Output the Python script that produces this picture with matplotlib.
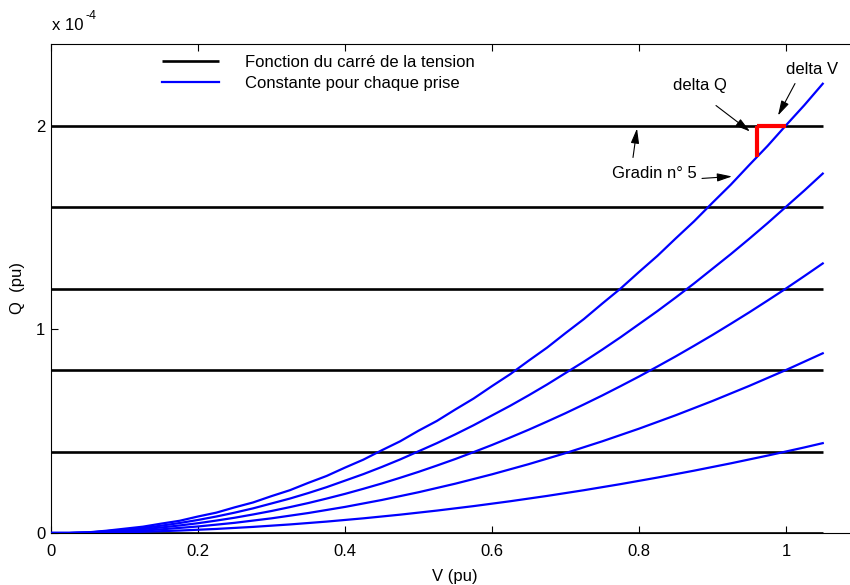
import matplotlib
matplotlib.use("Agg")
import matplotlib.pyplot as plt

plt.rcParams['font.family'] = ['Liberation Sans', 'DejaVu Sans']

# Data (Q in units of 1e-4 pu)
V = [0.000, 0.025, 0.050, 0.075, 0.100, 0.125, 0.150, 0.175, 0.200, 0.225, 0.250,
     0.275, 0.300, 0.325, 0.350, 0.375, 0.400, 0.425, 0.450, 0.475, 0.500, 0.525,
     0.550, 0.575, 0.600, 0.625, 0.650, 0.675, 0.700, 0.725, 0.750, 0.775, 0.800,
     0.825, 0.850, 0.875, 0.900, 0.925, 0.950, 0.975, 1.000, 1.025, 1.050]
Q_prise5 = [0, 0.000, 0.003, 0.011, 0.021, 0.031, 0.046, 0.060, 0.081, 0.100, 0.126,
            0.150, 0.181, 0.210, 0.246, 0.280, 0.321, 0.360, 0.406, 0.450, 0.502, 0.550,
            0.606, 0.660, 0.721, 0.780, 0.846, 0.910, 0.981, 1.050, 1.126, 1.200, 1.281,
            1.360, 1.446, 1.530, 1.621, 1.710, 1.806, 1.900, 2.001, 2.100, 2.205]
Q_prise4 = [0, 0.000, 0.002, 0.009, 0.016, 0.025, 0.036, 0.049, 0.064, 0.081, 0.100,
            0.121, 0.145, 0.169, 0.196, 0.225, 0.257, 0.289, 0.324, 0.361, 0.401, 0.441,
            0.484, 0.529, 0.577, 0.625, 0.676, 0.729, 0.785, 0.841, 0.900, 0.961, 1.025,
            1.089, 1.156, 1.225, 1.297, 1.369, 1.444, 1.521, 1.601, 1.681, 1.764]
Q_prise3 = [0, 0.000, 0.002, 0.007, 0.012, 0.019, 0.027, 0.037, 0.048, 0.061, 0.075,
            0.091, 0.108, 0.127, 0.147, 0.169, 0.192, 0.217, 0.243, 0.271, 0.300, 0.331,
            0.363, 0.397, 0.432, 0.469, 0.507, 0.547, 0.588, 0.631, 0.675, 0.721, 0.768,
            0.817, 0.867, 0.919, 0.972, 1.027, 1.083, 1.141, 1.200, 1.261, 1.323]
Q_prise2 = [0, 0.000, 0.001, 0.004, 0.008, 0.012, 0.018, 0.025, 0.032, 0.041, 0.050,
            0.061, 0.072, 0.085, 0.098, 0.113, 0.128, 0.145, 0.162, 0.181, 0.200, 0.221,
            0.242, 0.265, 0.288, 0.313, 0.338, 0.365, 0.392, 0.421, 0.450, 0.481, 0.512,
            0.545, 0.578, 0.613, 0.648, 0.685, 0.722, 0.761, 0.800, 0.841, 0.882]
Q_prise1 = [0, 0.000, 0.001, 0.002, 0.004, 0.006, 0.009, 0.012, 0.016, 0.020, 0.025,
            0.030, 0.036, 0.042, 0.049, 0.056, 0.064, 0.072, 0.081, 0.090, 0.100, 0.110,
            0.121, 0.132, 0.144, 0.156, 0.169, 0.182, 0.196, 0.210, 0.225, 0.240, 0.256,
            0.272, 0.289, 0.306, 0.324, 0.342, 0.361, 0.380, 0.400, 0.420, 0.441]
curves = [Q_prise1, Q_prise2, Q_prise3, Q_prise4, Q_prise5]
gradins = [0.0, 0.4, 0.8, 1.2, 1.6, 2.0]
V_range = [0.0, 1.05]
deltaV_x = [0.96, 1.0]
deltaQ_y = [1.843, 2.0]

FS = 12
fig = plt.figure(figsize=(8.5, 5.85), dpi=100)
W, H = 850, 585
x0, x1 = 51, 51 + 1.1 * 735
y0, y1 = 533, 44
ax = fig.add_axes([x0 / W, (H - y0) / H, (x1 - x0) / W, (y0 - y1) / H])

for i, g in enumerate(gradins):
    ax.plot(V_range, [g, g], color='black', lw=1.9, solid_capstyle='butt',
            label='Fonction du carré de la tension' if i == 0 else None, zorder=2)
for i, c in enumerate(curves):
    ax.plot(V, c, color='#0000ff', lw=1.6,
            label='Constante pour chaque prise' if i == 0 else None, zorder=3)

# red delta markers
ax.plot(deltaV_x, [2.0, 2.0], color='red', lw=3, zorder=4, solid_capstyle='butt')
ax.plot([deltaV_x[0], deltaV_x[0]], deltaQ_y, color='red', lw=3, zorder=4,
        solid_capstyle='butt')

ax.set_xlim(0, 1.1)
ax.set_ylim(0, 2.4)
ax.set_xticks([0, 0.2, 0.4, 0.6, 0.8, 1.0])
ax.set_xticklabels(['0', '0.2', '0.4', '0.6', '0.8', '1'])
ax.set_yticks([0, 1, 2])
ax.set_yticklabels(['0', '1', '2'])
ax.tick_params(direction='in', length=5, width=0.8, top=True, right=True,
               labelsize=FS)
ax.tick_params(axis='x', pad=8)
ax.tick_params(axis='y', pad=4)
for s in ax.spines.values():
    s.set_linewidth(0.8)

ax.set_xlabel('V (pu)', fontsize=FS, labelpad=7)
ax.set_ylabel('Q  (pu)', fontsize=FS, labelpad=8)
fig.text(52 / W, 1 - 26 / H, 'x 10', fontsize=FS, ha='left', va='center')
fig.text(86 / W, 1 - 16 / H, '-4', fontsize=9, ha='left', va='center')

ax.legend(loc='upper left', bbox_to_anchor=(162 / W, 1 - 55 / H),
          bbox_transform=fig.transFigure, frameon=False, borderpad=0,
          borderaxespad=0, fontsize=FS, handlelength=3.4, handletextpad=1.6,
          labelspacing=0.35)

arrow = dict(arrowstyle='-|>,head_length=0.9,head_width=0.25', color='black',
             lw=0.8, shrinkA=0, shrinkB=0)

def px2data(px, py):
    return ((px - x0) / 735.0, (y0 - py) / 204.0)

ax.text(*px2data(812, 69), 'delta V', fontsize=FS, ha='center', va='center')
ax.annotate('', xy=px2data(778, 115), xytext=px2data(795, 83), arrowprops=arrow)
ax.text(*px2data(700, 85), 'delta Q', fontsize=FS, ha='center', va='center')
ax.annotate('', xy=px2data(750, 131), xytext=px2data(716, 105), arrowprops=arrow)
ax.text(*px2data(654, 173), 'Gradin n° 5', fontsize=FS, ha='center', va='center')
ax.annotate('', xy=px2data(637, 128), xytext=px2data(633, 157), arrowprops=arrow)
ax.annotate('', xy=px2data(732, 176), xytext=px2data(702, 178), arrowprops=arrow)

fig.savefig('out.png', dpi=100)
